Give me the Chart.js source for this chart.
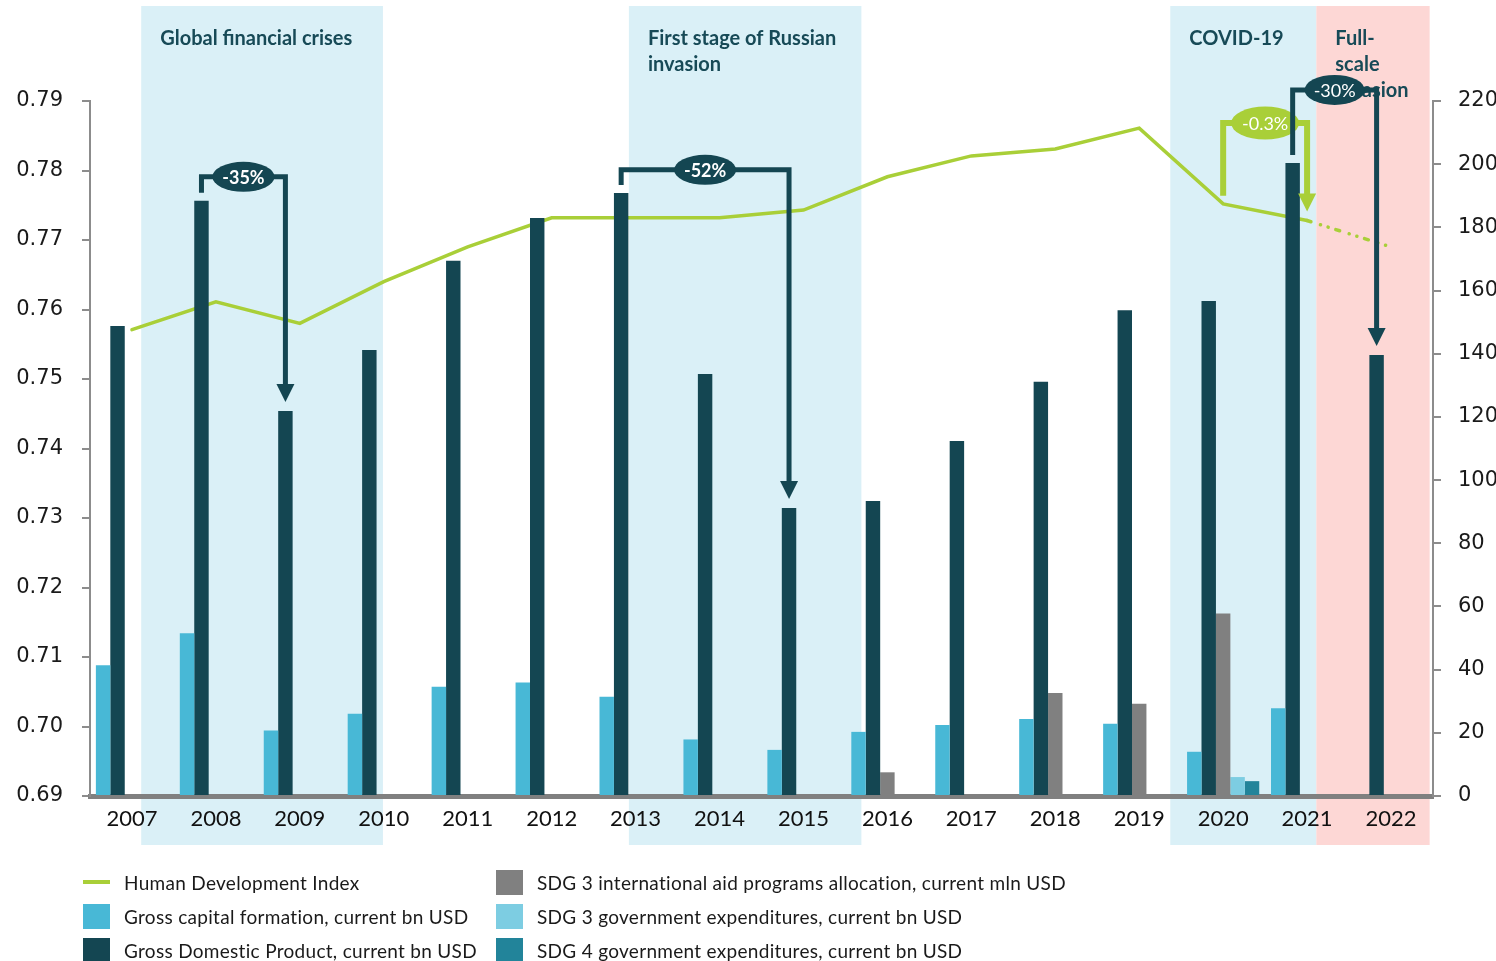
<!DOCTYPE html>
<html>
<head>
<meta charset="utf-8">
<title>Ukraine: HDI, GDP and related spending, 2007–2022</title>
<script src="https://cdn.jsdelivr.net/npm/chart.js@4.4.1/dist/chart.umd.min.js"></script>
<style>
  html, body { margin: 0; padding: 0; background: #fff; }
  #wrap { position: relative; width: 1496px; height: 961px; overflow: hidden; }
  #legend {
    position: absolute; left: 83px; top: 865px;
    display: grid; grid-template-columns: 413px auto; grid-template-rows: repeat(3, 34px);
    grid-auto-flow: column;
    font: 19px Lato, sans-serif; letter-spacing: 0.3px; color: #1a1a1a;
  }
  .item { display: flex; align-items: center; white-space: nowrap; }
  .sw { width: 27px; height: 25px; margin-right: 14px; flex: none; }
  .sw.line { height: 4px; }
</style>
</head>
<body>
<div id="wrap">
  <canvas id="hdiChart"></canvas>
  <div id="legend"></div>
</div>
<script>
const years = ['2007', '2008', '2009', '2010', '2011', '2012', '2013', '2014',
               '2015', '2016', '2017', '2018', '2019', '2020', '2021', '2022'];
const hdi = [0.7571, 0.7611, 0.7580, 0.7640, 0.7690, 0.7732, 0.7732, 0.7732,
             0.7743, 0.7791, 0.7821, 0.7831, 0.7861, 0.7752, 0.7728, 0.7690];
const grossCapital = [41.4, 51.5, 20.7, 26.0, 34.6, 35.9, 31.4, 17.9,
                      14.6, 20.3, 22.5, 24.4, 22.9, 14.0, 27.8, null];
const gdp = [148.8, 188.4, 121.9, 141.2, 169.4, 183.0, 190.9, 133.6,
             91.2, 93.4, 112.4, 131.1, 153.8, 156.7, 200.4, 139.6];
const sdg3Aid = [null, null, null, null, null, null, null, null,
                 null, 7.5, null, 32.6, 29.2, 57.8, null, null];
const sdg3Gov = [null, null, null, null, null, null, null, null,
                 null, null, null, null, null, 6.0, null, null];
const sdg4Gov = [null, null, null, null, null, null, null, null,
                 null, null, null, null, null, 4.7, null, null];

const green = '#a9cf38';
const dark = '#144652';
const titleColor = '#174a57';

// shaded periods, edges given in category index units
const periods = [
  { lines: ['Global financial crises'], from: 0.11, to: 2.99, fill: '#daf0f7' },
  { lines: ['First stage of Russian', 'invasion'], from: 5.92, to: 8.69, fill: '#daf0f7' },
  { lines: ['COVID-19'], from: 12.37, to: 14.11, fill: '#daf0f7' },
  { lines: ['Full-', 'scale', 'invasion'], from: 14.11, to: 15.46, fill: '#fdd7d5' }
];

// change brackets: dataset, start/end index, height of the bar on the right axis
const changes = [
  { ds: 2, from: 1, to: 2, level: 196, color: dark, bold: true },
  { ds: 2, from: 6, to: 8, level: 198.2, color: dark, bold: true },
  { ds: 0, from: 13, to: 14, level: 213, color: green, bold: false, rx: 34, ry: 16.5, lw: 6 },
  { ds: 2, from: 14, to: 15, level: 223.5, color: dark, bold: false, rx: 30 }
];

function changeLabel(c) {
  const src = c.ds === 0 ? hdi : gdp;
  const pct = (src[c.to] / src[c.from] - 1) * 100;
  return c.ds === 0 ? pct.toFixed(1) + '%' : Math.round(pct) + '%';
}

const periodBands = {
  id: 'periodBands',
  beforeDraw(chart) {
    const { ctx, scales: { x } } = chart;
    ctx.save();
    periods.forEach(p => {
      const x0 = x.getPixelForValue(p.from);
      const x1 = x.getPixelForValue(p.to);
      ctx.fillStyle = p.fill;
      ctx.fillRect(x0, 6, x1 - x0, 839);
      ctx.fillStyle = titleColor;
      ctx.font = 'bold 20px Lato';
      ctx.textBaseline = 'middle';
      p.lines.forEach((t, i) => ctx.fillText(t, x0 + 19, 39 + i * 26));
    });
    ctx.restore();
  }
};

const changeBrackets = {
  id: 'changeBrackets',
  afterDatasetsDraw(chart) {
    const { ctx } = chart;
    const y2 = chart.scales.y2;
    ctx.save();
    changes.forEach(c => {
      const pts = chart.getDatasetMeta(c.ds).data;
      const a = pts[c.from], b = pts[c.to];
      const top = y2.getPixelForValue(c.level);
      const y0 = a.y - 8, y1 = b.y - 9;
      const head = 18;
      ctx.strokeStyle = c.color;
      ctx.lineWidth = c.lw || 5;
      ctx.lineJoin = 'miter';
      ctx.beginPath();
      ctx.moveTo(a.x, y0);
      ctx.lineTo(a.x, top);
      ctx.lineTo(b.x, top);
      ctx.lineTo(b.x, y1 - head + 1);
      ctx.stroke();
      ctx.fillStyle = c.color;
      ctx.beginPath();
      ctx.moveTo(b.x - 9, y1 - head);
      ctx.lineTo(b.x + 9, y1 - head);
      ctx.lineTo(b.x, y1);
      ctx.closePath();
      ctx.fill();
      // ellipse with the change in the middle of the bracket
      const cx = (a.x + b.x) / 2;
      ctx.beginPath();
      ctx.ellipse(cx, top, c.rx || 31, c.ry || 15, 0, 0, Math.PI * 2);
      ctx.fill();
      ctx.fillStyle = '#fff';
      ctx.font = (c.bold ? 'bold ' : '') + '18px Lato';
      ctx.textAlign = 'center';
      ctx.textBaseline = 'middle';
      ctx.fillText(changeLabel(c), cx, top + 1);
    });
    ctx.restore();
  }
};

const tickFont = { family: 'DejaVu Sans', size: 21 };
const axisGray = '#8c8c8c';

const chart = new Chart(document.getElementById('hdiChart'), {
  data: {
    labels: years,
    datasets: [
      {
        type: 'line', label: 'Human Development  Index', data: hdi, yAxisID: 'y',
        borderColor: green, backgroundColor: green, borderWidth: 3.5,
        pointRadius: 0, tension: 0, order: 1, borderCapStyle: 'round',
        segment: {
          borderDash: ctx => ctx.p1DataIndex === years.length - 1 ? [4, 10, 0.1, 7.9, 0.1, 8] : undefined
        }
      },
      { type: 'bar', label: 'Gross capital formation, current bn USD', data: grossCapital, yAxisID: 'y2', backgroundColor: '#48b8d6' },
      { type: 'bar', label: 'Gross Domestic Product, current bn USD', data: gdp, yAxisID: 'y2', backgroundColor: dark },
      { type: 'bar', label: 'SDG 3 international aid programs allocation, current mln USD', data: sdg3Aid, yAxisID: 'y2', backgroundColor: '#808080' },
      { type: 'bar', label: 'SDG 3 government expenditures, current bn USD', data: sdg3Gov, yAxisID: 'y2', backgroundColor: '#7dcde2' },
      { type: 'bar', label: 'SDG 4 government expenditures, current bn USD', data: sdg4Gov, yAxisID: 'y2', backgroundColor: '#22849a' }
    ]
  },
  options: {
    responsive: true,
    maintainAspectRatio: false,
    animation: false,
    layout: { padding: { top: 101, left: 0, right: 0, bottom: 0 } },
    datasets: { bar: { categoryPercentage: 0.86, barPercentage: 1 } },
    plugins: { legend: { display: false }, tooltip: { enabled: false } },
    scales: {
      x: {
        offset: true,
        grid: { drawOnChartArea: false, drawTicks: false },
        border: { color: '#808080', width: 5 },
        ticks: { font: { family: 'Lato', size: 22 }, color: '#111', padding: 10 },
        afterFit: s => { s.height = 165; }
      },
      y: {
        position: 'left', min: 0.69, max: 0.79,
        ticks: { count: 11, callback: v => v.toFixed(2), font: tickFont, color: '#1a1a1a', padding: 19 },
        grid: { drawOnChartArea: false, color: axisGray, lineWidth: 2, tickLength: 8 },
        border: { color: axisGray, width: 2 },
        afterFit: s => { s.width = 90; }
      },
      y2: {
        position: 'right', min: 0, max: 220,
        ticks: { stepSize: 20, font: tickFont, color: '#1a1a1a', padding: 17 },
        grid: { drawOnChartArea: false, color: axisGray, lineWidth: 2, tickLength: 8 },
        border: { color: axisGray, width: 2 },
        afterFit: s => { s.width = 63; }
      }
    }
  },
  plugins: [periodBands, changeBrackets]
});

// two-column legend under the plot
const legend = document.getElementById('legend');
chart.data.datasets.forEach(ds => {
  const item = document.createElement('div');
  item.className = 'item';
  const sw = document.createElement('span');
  sw.className = ds.type === 'line' ? 'sw line' : 'sw';
  sw.style.background = ds.backgroundColor;
  const txt = document.createElement('span');
  txt.textContent = ds.label;
  item.appendChild(sw);
  item.appendChild(txt);
  legend.appendChild(item);
});
</script>
</body>
</html>
